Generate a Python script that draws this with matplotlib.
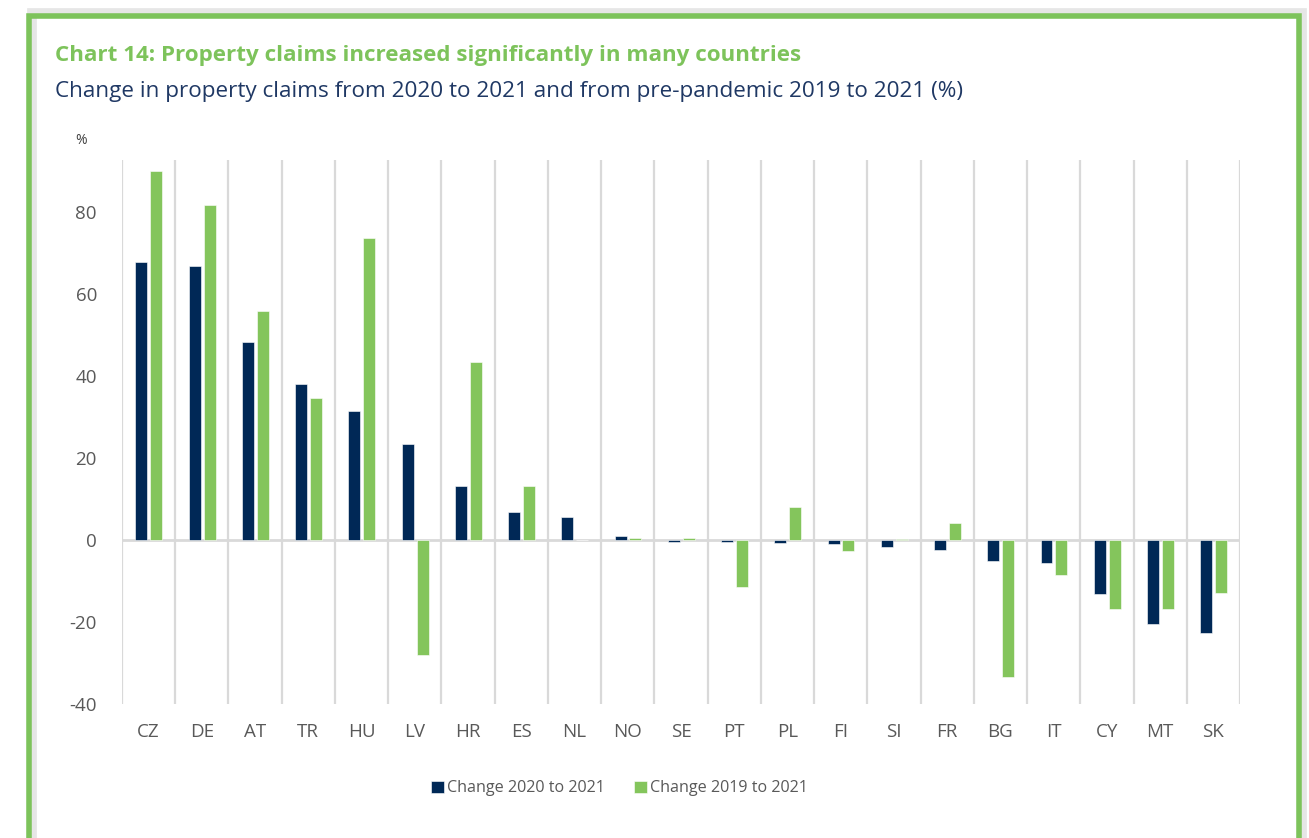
import matplotlib.pyplot as plt
import numpy as np
from matplotlib.patches import Rectangle

countries = ['CZ', 'DE', 'AT', 'TR', 'HU', 'LV', 'HR', 'ES', 'NL', 'NO', 'SE',
             'PT', 'PL', 'FI', 'SI', 'FR', 'BG', 'IT', 'CY', 'MT', 'SK']
chg_2020_2021 = [67.8, 66.8, 48.3, 38.0, 31.5, 23.4, 13.2, 6.8, 5.6, 1.0, -0.5,
                 -0.5, -0.6, -1.0, -1.7, -2.4, -5.0, -5.6, -13.2, -20.6, -22.6]
chg_2019_2021 = [90.0, 81.7, 55.9, 34.6, 73.7, -28.0, 43.4, 13.2, 0.0, 0.5, 0.5,
                 -11.5, 8.0, -2.6, 0.3, 4.2, -33.3, -8.6, -16.8, -16.8, -12.8]
yticks = [-40, -20, 0, 20, 40, 60, 80]

NAVY = '#002856'
GREEN = '#84C55C'
GRID = '#D9D9D9'
TXT = '#595959'

plt.rcParams['font.family'] = ['Open Sans', 'DejaVu Sans']
plt.rcParams['axes.unicode_minus'] = False

fig = plt.figure(figsize=(13.09, 8.38), dpi=100)

# green frame with light shadow
fig.patches.append(Rectangle((0.0245, -0.05), 0.97, 1.035, transform=fig.transFigure,
                             fill=False, edgecolor='#E6E6E6', linewidth=7, zorder=0))
fig.patches.append(Rectangle((0.0225, -0.05), 0.97, 1.031, transform=fig.transFigure,
                             fill=False, edgecolor='#7DC35B', linewidth=4, zorder=1))

fig.text(0.042, 0.934, 'Chart 14: Property claims increased significantly in many countries',
         color='#7DC35B', fontsize=16.1, fontweight='bold', va='center')
fig.text(0.042, 0.891, 'Change in property claims from 2020 to 2021 and from pre-pandemic 2019 to 2021 (%)',
         color='#1F3864', fontsize=16.2, va='center')
fig.text(0.062, 0.832, '%', color='#404040', fontsize=10, va='center', ha='center')

ax = fig.add_axes([0.0932, 0.1599, 0.8541, 0.6491])
x = np.arange(len(countries))
w = 0.225
ax.bar(x - 0.135, chg_2020_2021, w, color=NAVY, edgecolor='white', linewidth=0.4,
       zorder=3, label='Change 2020 to 2021')
ax.bar(x + 0.145, chg_2019_2021, w, color=GREEN, edgecolor='white', linewidth=0.4,
       zorder=3, label='Change 2019 to 2021')

ax.set_xlim(-0.5, len(countries) - 0.5)
ax.set_ylim(-40, 92.7)
ax.set_xticks(x)
ax.set_xticklabels(countries)
ax.set_xticks(np.arange(len(countries) + 1) - 0.5, minor=True)
ax.set_yticks(yticks)
ax.grid(which='minor', axis='x', color=GRID, linewidth=1.6, zorder=0)
ax.axhline(0, color=GRID, linewidth=2, zorder=2)
ax.tick_params(which='both', length=0)
ax.tick_params(axis='both', labelsize=13.5, labelcolor=TXT)
ax.tick_params(axis='x', pad=14)
ax.tick_params(axis='y', pad=18)
for s in ax.spines.values():
    s.set_visible(False)

ax.legend(loc='center', bbox_to_anchor=(0.445, -0.155), ncol=2, frameon=False,
          fontsize=11.6, labelcolor=TXT, handlelength=0.8, handleheight=0.8,
          handletextpad=0.2, columnspacing=1.8)

fig.savefig('out.png', dpi=100)
